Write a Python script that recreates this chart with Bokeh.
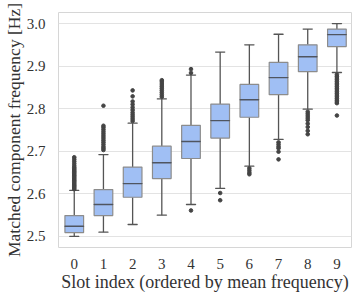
from bokeh.plotting import figure
from bokeh.models import Range1d, FixedTicker, ColumnDataSource, NumeralTickFormatter
from bokeh.embed import file_html
from bokeh.resources import INLINE

slots = [0, 1, 2, 3, 4, 5, 6, 7, 8, 9]
lower = [2.500, 2.510, 2.528, 2.550, 2.575, 2.613, 2.665, 2.728, 2.799, 2.885]
q1 = [2.509, 2.549, 2.592, 2.636, 2.683, 2.731, 2.780, 2.833, 2.887, 2.946]
median = [2.524, 2.575, 2.624, 2.673, 2.723, 2.772, 2.821, 2.873, 2.922, 2.974]
q3 = [2.549, 2.610, 2.663, 2.712, 2.761, 2.811, 2.857, 2.909, 2.950, 2.987]
upper = [2.608, 2.692, 2.766, 2.823, 2.879, 2.933, 2.950, 2.975, 2.987, 3.000]

outliers = {
    0: [2.611, 2.614, 2.617, 2.620, 2.623, 2.626, 2.629, 2.632, 2.635, 2.638, 2.641,
        2.644, 2.647, 2.650, 2.653, 2.656, 2.659, 2.662, 2.666, 2.671, 2.676, 2.681, 2.686],
    1: [2.703, 2.707, 2.711, 2.716, 2.721, 2.726, 2.731, 2.736, 2.741, 2.746, 2.751,
        2.756, 2.760, 2.807],
    2: [2.771, 2.776, 2.781, 2.786, 2.791, 2.797, 2.803, 2.810, 2.817, 2.829, 2.843],
    3: [2.828, 2.833, 2.838, 2.843, 2.848, 2.853, 2.858, 2.863, 2.867],
    4: [2.884, 2.893, 2.561],
    5: [2.602, 2.585],
    6: [2.660, 2.655, 2.650, 2.646],
    7: [2.721, 2.716, 2.711, 2.707, 2.699, 2.681],
    8: [2.793, 2.788, 2.783, 2.778, 2.773, 2.765, 2.757, 2.748, 2.740],
    9: [2.880, 2.876, 2.872, 2.868, 2.864, 2.860, 2.856, 2.852, 2.848, 2.844, 2.840,
        2.836, 2.832, 2.828, 2.824, 2.820, 2.816, 2.813, 2.784],
}

FONT = "'Liberation Serif', serif"
TXT = "#333333"

p = figure(width=359, height=301, output_backend="svg", toolbar_location=None,
           x_range=Range1d(-0.54, 9.5), y_range=Range1d(2.474, 3.026),
           min_border_left=52, min_border_right=8, min_border_top=12, min_border_bottom=54)

p.outline_line_color = "#d6d6d6"
p.outline_line_width = 1
p.background_fill_color = "white"
p.border_fill_color = "white"

p.xgrid.grid_line_color = None
p.ygrid.grid_line_color = "#e3e3e3"
p.ygrid.grid_line_width = 1

for ax in (p.xaxis, p.yaxis):
    ax.axis_line_color = None
    ax.major_tick_line_color = None
    ax.minor_tick_line_color = None
    ax.major_label_text_font = FONT
    ax.major_label_text_font_size = "15px"
    ax.major_label_text_color = TXT
    ax.axis_label_text_font = FONT
    ax.axis_label_text_color = TXT
    ax.axis_label_text_font_style = "normal"

p.xaxis.axis_label_text_font_size = "18px"
p.yaxis.axis_label_text_font_size = "17.5px"

p.xaxis.ticker = FixedTicker(ticks=slots)
p.yaxis.ticker = FixedTicker(ticks=[2.5, 2.6, 2.7, 2.8, 2.9, 3.0])
p.yaxis.formatter = NumeralTickFormatter(format="0.0")
p.xaxis.major_label_standoff = 5
p.yaxis.major_label_standoff = 7
p.xaxis.axis_label_standoff = 0
p.yaxis.axis_label_standoff = 0
p.xaxis.axis_label = "Slot index (ordered by mean frequency)"
p.yaxis.axis_label = "Matched component frequency [Hz]"

src = ColumnDataSource(dict(x=slots, lower=lower, q1=q1, median=median, q3=q3, upper=upper))

WC = "#555555"
p.segment(x0="x", y0="q3", x1="x", y1="upper", source=src, line_color=WC, line_width=1.3)
p.segment(x0="x", y0="lower", x1="x", y1="q1", source=src, line_color=WC, line_width=1.3)
p.rect(x="x", y="upper", width=0.32, height=0.0001, source=src, fill_alpha=0,
       line_color=WC, line_width=1.3)
p.rect(x="x", y="lower", width=0.32, height=0.0001, source=src, fill_alpha=0,
       line_color=WC, line_width=1.3)
p.vbar(x="x", width=0.64, top="q3", bottom="q1", source=src,
       fill_color="#a0bff4", line_color="#8c8c8c", line_width=1.2)
p.rect(x="x", y="median", width=0.64, height=0.0001, source=src, fill_alpha=0,
       line_color="#4f5560", line_width=1.4)

ox, oy = [], []
for k in slots:
    for v in outliers[k]:
        ox.append(k)
        oy.append(v)
p.scatter(ox, oy, size=3.6, fill_color="#444444", line_color="#444444")

open("out.html", "w").write(file_html(p, INLINE))
